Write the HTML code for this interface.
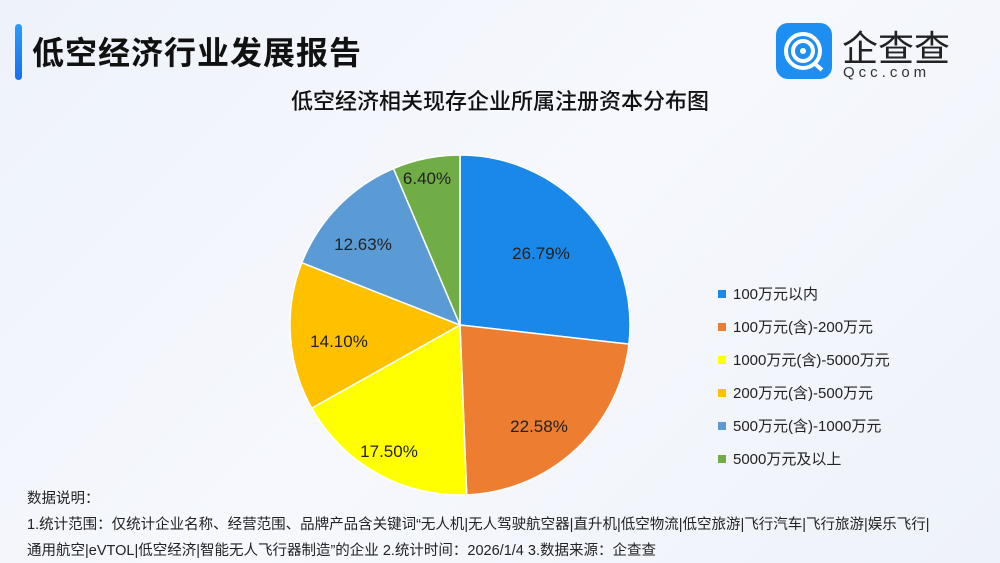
<!DOCTYPE html>
<html><head><meta charset="utf-8"><style>
body{margin:0;width:1000px;height:563px;overflow:hidden;background:linear-gradient(135deg,#eef2fa 0%,#f6f8fd 50%,#eef2f9 100%);font-family:"Liberation Sans","Noto Sans CJK SC",sans-serif;position:relative}
.bar{position:absolute;left:15px;top:24px;width:7px;height:56px;border-radius:4px;background:linear-gradient(#2a9cff,#1570f0)}
.t1{position:absolute;left:32px;top:28px;font-size:32px;font-weight:bold;color:#111;letter-spacing:1px}
.t2{position:absolute;left:0;width:1000px;text-align:center;top:84px;font-size:22px;color:#111;font-weight:500}
.logo{position:absolute;left:776px;top:23px;width:56px;height:56px;border-radius:12px;background:#1d8ef2}
.lt{position:absolute;left:842px;top:20px;font-size:36px;color:#222}
.lq{position:absolute;left:843px;top:64px;font-size:15px;letter-spacing:4px;color:#333}
.leg{position:absolute;left:718px;font-size:15px;color:#222}
.leg i{display:inline-block;width:8px;height:8px;margin-right:7px;vertical-align:1px}
.note{position:absolute;left:27px;font-size:14.5px;color:#222;white-space:nowrap}
</style></head><body>
<div class="bar"></div>
<div class="t1">低空经济行业发展报告</div>
<div class="t2">低空经济相关现存企业所属注册资本分布图</div>
<div class="logo"><svg width="56" height="56"><circle cx="27" cy="28" r="17" fill="none" stroke="#fff" stroke-width="4"/><circle cx="27" cy="28" r="10" fill="none" stroke="#fff" stroke-width="4"/><circle cx="27" cy="28" r="3" fill="#fff"/><path d="M38 40 L46 47" stroke="#fff" stroke-width="4"/></svg></div>
<div class="lt">企查查</div>
<div class="lq">Qcc.com</div>
<svg style="position:absolute;left:0;top:0" width="1000" height="563">
<g stroke="#fff" stroke-width="1.5">
<path d="M460 325 L460 155 A170 170 0 0 1 628.9 344.1Z" fill="#1a88e9"/>
<path d="M460 325 L628.9 344.1 A170 170 0 0 1 466.7 494.9Z" fill="#ed7d31"/>
<path d="M460 325 L466.7 494.9 A170 170 0 0 1 311.7 408.1Z" fill="#ffff00"/>
<path d="M460 325 L311.7 408.1 A170 170 0 0 1 301.8 262.7Z" fill="#ffc000"/>
<path d="M460 325 L301.8 262.7 A170 170 0 0 1 393.5 168.5Z" fill="#5b9bd5"/>
<path d="M460 325 L393.5 168.5 A170 170 0 0 1 460 155Z" fill="#70ad47"/>
</g>
<g font-size="17" fill="#222" text-anchor="middle" font-family="Liberation Sans,sans-serif">
<text x="541" y="259">26.79%</text>
<text x="539" y="432">22.58%</text>
<text x="389" y="457">17.50%</text>
<text x="339" y="347">14.10%</text>
<text x="363" y="250">12.63%</text>
<text x="427" y="184">6.40%</text>
</g></svg>
<div class="leg" style="top:283px"><i style="background:#1a88e9"></i>100万元以内</div>
<div class="leg" style="top:316px"><i style="background:#ed7d31"></i>100万元(含)-200万元</div>
<div class="leg" style="top:349px"><i style="background:#ffff00"></i>1000万元(含)-5000万元</div>
<div class="leg" style="top:382px"><i style="background:#ffc000"></i>200万元(含)-500万元</div>
<div class="leg" style="top:415px"><i style="background:#5b9bd5"></i>500万元(含)-1000万元</div>
<div class="leg" style="top:448px"><i style="background:#70ad47"></i>5000万元及以上</div>
<div class="note" style="top:487px">数据说明：</div>
<div class="note" style="top:513px">1.统计范围：仅统计企业名称、经营范围、品牌产品含关键词“无人机|无人驾驶航空器|直升机|低空物流|低空旅游|飞行汽车|飞行旅游|娱乐飞行|</div>
<div class="note" style="top:539px">通用航空|eVTOL|低空经济|智能无人飞行器制造”的企业 2.统计时间：2026/1/4 3.数据来源：企查查</div>
</body></html>
